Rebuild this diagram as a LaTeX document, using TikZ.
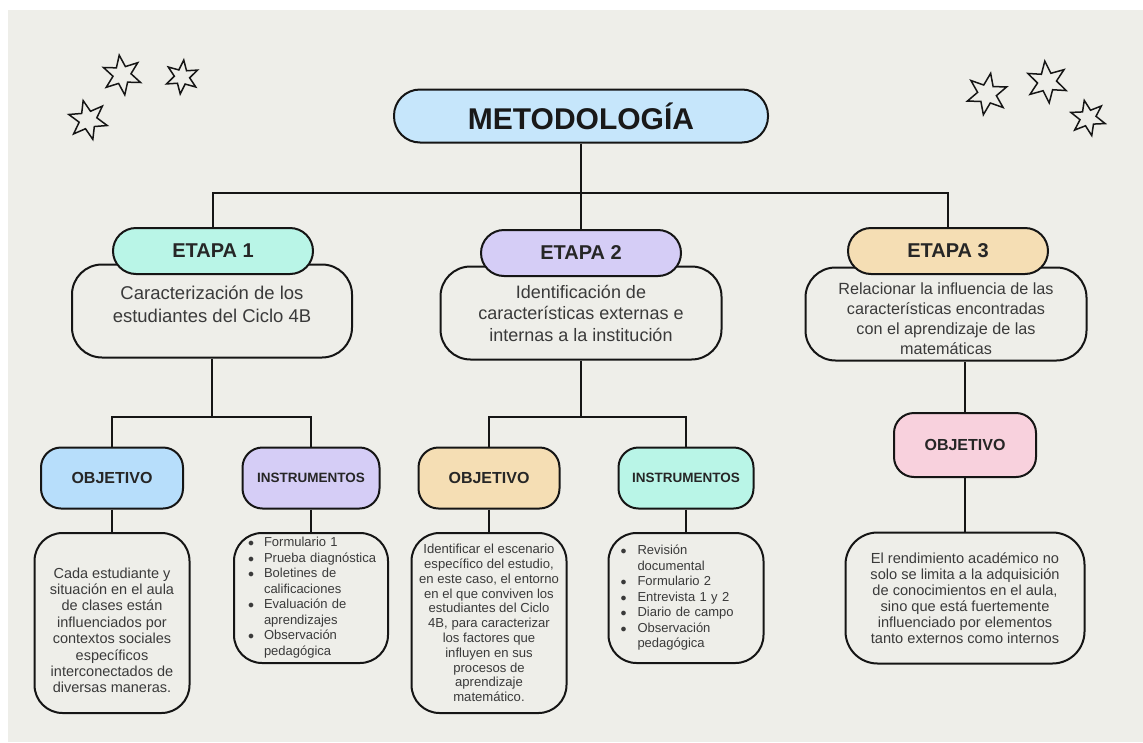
\documentclass[tikz,border=0pt]{standalone}
\usepackage{fontspec}
\setmainfont{Liberation Sans}
\usetikzlibrary{shapes.geometric}

\definecolor{fondo}{HTML}{EEEEE9}
\definecolor{trazo}{HTML}{151515}
\definecolor{texto}{HTML}{3A3A3A}
\definecolor{cMeta}{HTML}{C6E6FB}
\definecolor{cMenta}{HTML}{B9F5E7}
\definecolor{cLila}{HTML}{D5CDF6}
\definecolor{cArena}{HTML}{F5DEB4}
\definecolor{cCielo}{HTML}{B7DEFB}
\definecolor{cRosa}{HTML}{F8D1DD}

\newcommand\fMeta{\fontsize{30}{34}\selectfont\bfseries}
\newcommand\fEtapa{\fontsize{20}{23}\selectfont\bfseries}
\newcommand\fObj{\fontsize{16}{19}\selectfont\bfseries}
\newcommand\fInst{\fontsize{13.5}{16}\selectfont\bfseries}
\newcommand\fLista{\fontsize{13}{15.5}\selectfont}
\newcommand\vineta{$\bullet$}

\tikzset{
  conector/.style={line width=2pt,draw=trazo},
  caja/.style={draw=trazo,line width=2pt,fill=fondo,align=center,text=texto,inner sep=2pt},
  pildora/.style={draw=trazo,line width=2pt,rounded corners=23pt,minimum width=200pt,
    minimum height=46pt,font=\fEtapa,text=black!85},
  etiqueta/.style={draw=trazo,line width=2pt,rounded corners=20pt,minimum height=61pt,text=black!85},
  estrella/.style={star,star points=6,star point ratio=2.2,draw=trazo,line width=1.5pt,inner sep=0pt}
}

\begin{document}
\begin{tikzpicture}[x=1pt,y=-1pt]
\useasboundingbox (0,0) rectangle (1143,742);
\fill[white] (0,0) rectangle (1143,742);
\fill[fondo] (8,10) rectangle (1143,742);

% estrellas
\foreach \nombre/\x/\y/\r/\tam in {s1/122/75/8/40,s2/182/77/-6/34,s3/88/120/14/40,
    s4/987/94/-10/42,s5/1047/82/6/42,s6/1088/118/12/36}
  \node[estrella,minimum size=\tam*1pt,rotate=\r] (\nombre) at (\x,\y) {};

% raiz
\node[draw=trazo,line width=2pt,fill=cMeta,rounded corners=26pt,minimum width=374pt,
  minimum height=53pt,font=\fMeta,text=black!90] (meta) at (581,116) {METODOLOGÍA};

% etapas
\node[caja,rounded corners=30pt,minimum width=280pt,minimum height=93pt,
  font=\fontsize{18.5}{23}\selectfont] (d1) at (212,311)
  {Caracterización de los\\estudiantes del Ciclo 4B\rule[-14pt]{0pt}{1pt}};
\node[caja,rounded corners=30pt,minimum width=281pt,minimum height=93pt,
  font=\fontsize{18}{21.5}\selectfont] (d2) at (581,313)
  {Identificación de\\características externas e\\internas a la institución};
\node[caja,rounded corners=30pt,minimum width=281pt,minimum height=93pt,
  font=\fontsize{16.2}{20}\selectfont] (d3) at (946,314)
  {\rule{0pt}{21pt}Relacionar la influencia de las\\características encontradas\\con el aprendizaje de las\\matemáticas};

\node[pildora,fill=cMenta] (h1) at (213,251) {ETAPA 1};
\node[pildora,fill=cLila] (h2) at (581,253) {ETAPA 2};
\node[pildora,fill=cArena] (h3) at (948,251) {ETAPA 3};

% objetivos e instrumentos
\node[etiqueta,fill=cCielo,minimum width=142pt,font=\fObj] (o1) at (112,478) {OBJETIVO};
\node[etiqueta,fill=cLila,minimum width=137pt,font=\fInst] (i1) at (311,478) {INSTRUMENTOS};
\node[etiqueta,fill=cArena,minimum width=141pt,font=\fObj] (o2) at (489,478) {OBJETIVO};
\node[etiqueta,fill=cMenta,minimum width=135pt,font=\fInst] (i2) at (686,478) {INSTRUMENTOS};
\node[etiqueta,fill=cRosa,minimum width=142pt,minimum height=64pt,font=\fObj] (o3) at (965,445) {OBJETIVO};

% textos
\node[caja,rounded corners=28pt,minimum width=155pt,minimum height=180pt,
  font=\fontsize{14.5}{16.4}\selectfont] (t1) at (112,623)
  {\rule{0pt}{25pt}Cada estudiante y\\situación en el aula\\de clases están\\influenciados por\\contextos sociales\\específicos\\interconectados de\\diversas maneras.};
\node[caja,rounded corners=28pt,minimum width=154pt,minimum height=130pt,
  align=left,text width=126pt,inner xsep=14pt,font=\fLista] (l1) at (311,598)
  {\begin{tabular}{@{}l@{\hspace{10pt}}l@{}}
  \vineta & Formulario 1\\
  \vineta & Prueba diagnóstica\\
  \vineta & Boletines de\\
   & calificaciones\\
  \vineta & Evaluación de\\
   & aprendizajes\\
  \vineta & Observación\\
   & pedagógica
  \end{tabular}};
\node[caja,rounded corners=28pt,minimum width=155pt,minimum height=180pt,
  font=\fontsize{13.1}{14.8}\selectfont] (t2) at (489,623)
  {Identificar el escenario\\específico del estudio,\\en este caso, el entorno\\en el que conviven los\\estudiantes del Ciclo\\4B, para caracterizar\\los factores que\\influyen en sus\\procesos de\\aprendizaje\\matemático.};
\node[caja,rounded corners=28pt,minimum width=155pt,minimum height=130pt,
  align=left,text width=131pt,inner xsep=12pt,font=\fLista] (l2) at (686,598)
  {\begin{tabular}{@{}l@{\hspace{11pt}}l@{}}
  \vineta & Revisión\\
   & documental\\
  \vineta & Formulario 2\\
  \vineta & Entrevista 1 y 2\\
  \vineta & Diario de campo\\
  \vineta & Observación\\
   & pedagógica
  \end{tabular}};
\node[caja,rounded corners=32pt,minimum width=239pt,minimum height=131pt,
  font=\fontsize{14.6}{16.1}\selectfont] (t3) at (965,598)
  {El rendimiento académico no\\solo se limita a la adquisición\\de conocimientos en el aula,\\sino que está fuertemente\\influenciado por elementos\\tanto externos como internos};

% conectores
\coordinate (bus) at (581,193);
\coordinate (bus1) at (212,417);
\coordinate (bus2) at (581,417);
\draw[conector] (meta.south) -- (bus);
\draw[conector] (h1.north) |- (bus) -| (h3.north);
\draw[conector] (bus) -- (h2.north);
\draw[conector] (d1.south) -- (bus1);
\draw[conector] (o1.north) |- (bus1) -| (i1.north);
\draw[conector] (d2.south) -- (bus2);
\draw[conector] (o2.north) |- (bus2) -| (i2.north);
\draw[conector] (o3.north) -- (o3.north |- d3.south);
\draw[conector] (o1) -- (t1);
\draw[conector] (i1) -- (l1);
\draw[conector] (o2) -- (t2);
\draw[conector] (i2) -- (l2);
\draw[conector] (o3) -- (t3);
\end{tikzpicture}
\end{document}
